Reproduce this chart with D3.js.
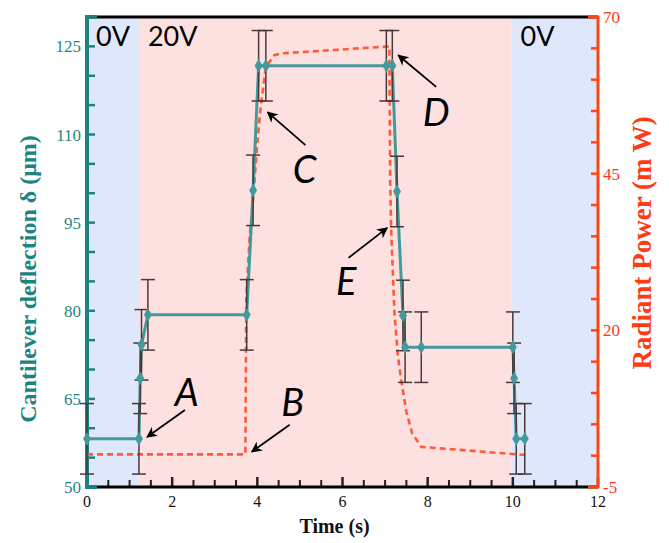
<!DOCTYPE html>
<meta charset="utf-8">
<script src="https://d3js.org/d3.v7.min.js"></script>
<style>
    body { margin: 0; background: #fff; }
    .tick-teal { font-family: 'Liberation Serif', serif; font-size: 17px; fill: #2a8585; }
    .tick-red { font-family: 'Liberation Serif', serif; font-size: 17px; fill: #ff3322; }
    .tick-x { font-family: 'Liberation Serif', serif; font-size: 16px; fill: #111; }
    .letter { font-family: 'Lato', sans-serif; font-style: italic; font-size: 38px; fill: #000; }
    .volt { font-family: 'Lato', sans-serif; font-size: 27px; fill: #000; }
</style>
<div id="chart"></div>
<script>
    // deflection series (teal, left axis)
    let timeS = [0, 1.22, 1.25, 1.28, 1.43, 3.75, 3.9, 4.03, 4.2, 7.03, 7.17, 7.28, 7.42, 7.47, 7.85, 10.0, 10.03, 10.08, 10.28];
    let deflection = [58.2, 58.2, 68.5, 74.2, 79.3, 79.3, 100.5, 121.7, 121.7, 121.7, 121.7, 100.3, 79.2, 73.8, 73.8, 73.8, 68.5, 58.2, 58.2];
    let deflErr = [6, 6, 6, 6, 6, 6, 6, 6, 6, 6, 6, 6, 6, 6, 6, 6, 6, 6, 6];

    // radiant power (red dashed, right axis)
    let powerT = [0, 3.72, 3.74, 3.82, 3.9, 4.0, 4.07, 4.2, 4.4, 4.57, 7.1, 7.12, 7.14, 7.22, 7.3, 7.38, 7.5, 7.64, 7.85, 10.3];
    let powerMW = [0.2, 0.2, 25, 35, 40.8, 50, 55.1, 62, 63.9, 64.2, 65.3, 44, 36.5, 22.8, 16, 12, 7, 3.5, 1.4, 0.1];

    // voltage regions
    let regionStart = [0, 1.22, 9.97];
    let regionEnd = [1.22, 9.97, 12];
    let regionVolt = ["0V", "20V", "0V"];

    // letters and their arrows, in (s, µm)
    let letters = ["A", "B", "C", "D", "E"];
    let letterX = [2.34, 4.83, 5.11, 8.2, 6.09];
    let letterY = [63.8, 62.1, 101.7, 111.4, 82.7];
    let arrowX1 = [2.3, 4.76, 5.13, 8.2, 6.14];
    let arrowY1 = [63.1, 60.6, 108.2, 118.1, 89];
    let arrowX2 = [1.41, 3.87, 4.24, 7.31, 7.05];
    let arrowY2 = [58.5, 56, 113.8, 123.5, 94.1];

    let xTicks = [0, 2, 4, 6, 8, 10, 12];
    let yTicks = [50, 65, 80, 95, 110, 125];
    let y2Ticks = [-5, 20, 45, 70];

    let W = 669, H = 543;
    let margin = {top: 17, right: 71, bottom: 56, left: 87};
    let width = W - margin.left - margin.right,
        height = H - margin.top - margin.bottom;

    let teal = "#1e8282", red = "#ff4416";

    let svg = d3.select("#chart").append("svg")
        .attr("width", W).attr("height", H);
    let defs = svg.append("defs");
    defs.append("marker").attr("id", "arr")
        .attr("viewBox", "0 0 10 10").attr("refX", 9).attr("refY", 5)
        .attr("markerWidth", 11).attr("markerHeight", 11)
        .attr("markerUnits", "userSpaceOnUse")
        .attr("orient", "auto")
        .append("path").attr("d", "M0,0 L10,5 L0,10 L3,5 z").attr("fill", "#000");

    let g = svg.append("g").attr("transform", "translate(" + margin.left + "," + margin.top + ")");

    let x = d3.scaleLinear().domain([0, 12]).range([0, width]);
    let y = d3.scaleLinear().domain([50, 130]).range([height, 0]);
    let y2 = d3.scaleLinear().domain([-5, 70]).range([height, 0]);

    // background regions
    g.selectAll("rect.region")
        .data(regionStart)
        .enter().append("rect")
        .attr("x", d => x(d))
        .attr("y", 0)
        .attr("width", (d, i) => x(regionEnd[i]) - x(d))
        .attr("height", height)
        .attr("fill", (d, i) => regionVolt[i] == "0V" ? "#dfe7fa" : "#fde1e1");

    g.selectAll("text.volt")
        .data(regionStart)
        .enter().append("text")
        .attr("class", "volt")
        .attr("x", d => x(d) + 9)
        .attr("y", y(125.1))
        .text((d, i) => regionVolt[i]);

    // bottom axis ticks (inward)
    let xMinor = d3.range(0, 12.01, 0.5);
    g.selectAll("line.xt")
        .data(xMinor)
        .enter().append("line")
        .attr("x1", d => x(d)).attr("x2", d => x(d))
        .attr("y1", height)
        .attr("y2", d => height - (d % 2 == 0 ? 10 : 7))
        .attr("stroke", "#2a1e1e")
        .attr("stroke-width", d => d % 2 == 0 ? 2.5 : 2);
    g.selectAll("text.xl")
        .data(xTicks)
        .enter().append("text")
        .attr("class", "tick-x")
        .attr("x", d => x(d)).attr("y", height + 20)
        .attr("text-anchor", "middle")
        .text(d => d);

    // frame top/bottom
    g.append("line").attr("x1", 0).attr("x2", width).attr("y1", 0).attr("y2", 0)
        .attr("stroke", "#000").attr("stroke-width", 3);
    g.append("line").attr("x1", 0).attr("x2", width).attr("y1", height).attr("y2", height)
        .attr("stroke", "#000").attr("stroke-width", 3);

    // left axis
    let yMinor = d3.range(50, 130.01, 5);
    g.selectAll("line.yt")
        .data(yMinor)
        .enter().append("line")
        .attr("x1", 0).attr("x2", 8)
        .attr("y1", d => y(d)).attr("y2", d => y(d))
        .attr("stroke", teal).attr("stroke-width", 2.5);
    g.append("path")
        .attr("d", "M10," + 0 + "H0V" + height + "H10")
        .attr("fill", "none").attr("stroke", teal).attr("stroke-width", 4);
    g.selectAll("text.yl")
        .data(yTicks)
        .enter().append("text")
        .attr("class", "tick-teal")
        .attr("x", -6).attr("y", d => y(d) + 6)
        .attr("text-anchor", "end")
        .text(d => d);

    // right axis
    let y2Minor = d3.range(-5, 70.01, 5);
    g.selectAll("line.y2t")
        .data(y2Minor)
        .enter().append("line")
        .attr("x1", width).attr("x2", width - 7)
        .attr("y1", d => y2(d)).attr("y2", d => y2(d))
        .attr("stroke", red).attr("stroke-width", 2.5);
    g.append("path")
        .attr("d", "M" + (width - 10) + ",0H" + width + "V" + height + "H" + (width - 10))
        .attr("fill", "none").attr("stroke", red).attr("stroke-width", 3);
    g.selectAll("text.y2l")
        .data(y2Ticks)
        .enter().append("text")
        .attr("class", "tick-red")
        .attr("x", width + 5).attr("y", d => y2(d) + 6)
        .text(d => d);

    // power dashed line
    let pts = powerT.map((t, i) => [t, powerMW[i]]);
    g.append("path")
        .datum(pts)
        .attr("d", d3.line().x(d => x(d[0])).y(d => y2(d[1])))
        .attr("fill", "none")
        .attr("stroke", "#ff5a3a")
        .attr("stroke-width", 2.6)
        .attr("stroke-dasharray", "6,4");

    // deflection line
    let dpts = timeS.map((t, i) => [t, deflection[i], deflErr[i]]);
    g.append("path")
        .datum(dpts)
        .attr("d", d3.line().x(d => x(d[0])).y(d => y(d[1])))
        .attr("fill", "none")
        .attr("stroke", "#449a9a")
        .attr("stroke-width", 3);

    // error bars
    let cap = 7;
    let eb = g.selectAll("g.err").data(dpts).enter().append("g")
        .attr("stroke", "#4a3838").attr("stroke-width", 1.5);
    eb.append("line")
        .attr("x1", d => x(d[0])).attr("x2", d => x(d[0]))
        .attr("y1", d => y(d[1] - d[2])).attr("y2", d => y(d[1] + d[2]));
    eb.append("line")
        .attr("x1", d => x(d[0]) - cap).attr("x2", d => x(d[0]) + cap)
        .attr("y1", d => y(d[1] - d[2])).attr("y2", d => y(d[1] - d[2]));
    eb.append("line")
        .attr("x1", d => x(d[0]) - cap).attr("x2", d => x(d[0]) + cap)
        .attr("y1", d => y(d[1] + d[2])).attr("y2", d => y(d[1] + d[2]));

    // diamond markers
    g.selectAll("path.mk")
        .data(dpts)
        .enter().append("path")
        .attr("d", d3.symbol().type(d3.symbolDiamond).size(55))
        .attr("transform", d => "translate(" + x(d[0]) + "," + y(d[1]) + ")")
        .attr("fill", "#449a9a");

    // annotations
    g.selectAll("line.arrow")
        .data(letters)
        .enter().append("line")
        .attr("x1", (d, i) => x(arrowX1[i])).attr("y1", (d, i) => y(arrowY1[i]))
        .attr("x2", (d, i) => x(arrowX2[i])).attr("y2", (d, i) => y(arrowY2[i]))
        .attr("stroke", "#000").attr("stroke-width", 1.8)
        .attr("marker-end", "url(#arr)");
    g.selectAll("text.letter")
        .data(letters)
        .enter().append("text")
        .attr("class", "letter")
        .attr("x", (d, i) => x(letterX[i])).attr("y", (d, i) => y(letterY[i]))
        .attr("text-anchor", "middle")
        .text(d => d);

    // axis titles
    svg.append("text")
        .attr("transform", "translate(36,279) rotate(-90)")
        .attr("text-anchor", "middle")
        .style("font-family", "'Liberation Serif', serif")
        .style("font-weight", "bold")
        .style("font-size", "24px")
        .attr("fill", teal)
        .text("Cantilever deflection δ (μm)");
    svg.append("text")
        .attr("transform", "translate(651,243) rotate(-90)")
        .attr("text-anchor", "middle")
        .style("font-family", "'Liberation Serif', serif")
        .style("font-weight", "bold")
        .style("font-size", "27px")
        .attr("fill", "#ff3a14")
        .text("Radiant Power (m W)");
    svg.append("text")
        .attr("x", margin.left + width / 2 - 8).attr("y", 533)
        .attr("text-anchor", "middle")
        .style("font-family", "'Liberation Serif', serif")
        .style("font-weight", "bold")
        .style("font-size", "20px")
        .attr("fill", "#111")
        .text("Time (s)");
</script>
